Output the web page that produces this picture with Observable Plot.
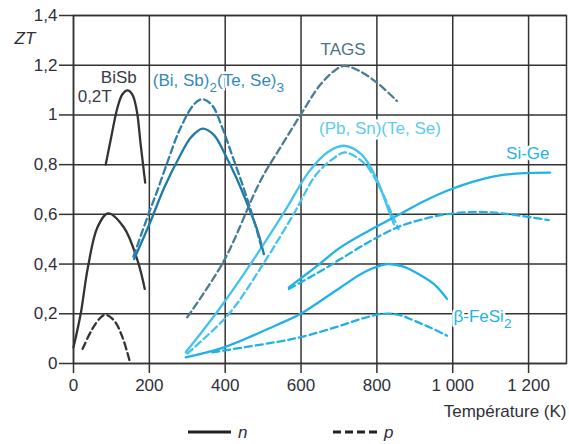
<!DOCTYPE html>
<html><head><meta charset="utf-8">
<script src="https://cdn.jsdelivr.net/npm/d3@7"></script>
<script src="https://cdn.jsdelivr.net/npm/@observablehq/plot@0.6"></script>
<style>
body{margin:0;background:#fff;font-family:"Liberation Sans",Arial,sans-serif;}
#chart{position:relative;width:569px;height:444px;}
#legend{position:absolute;left:0;top:418px;}
</style></head><body><div id="chart"></div>
<script>
// ---- tick values / labels ----
const xTicks = [0, 200, 400, 600, 800, 1000, 1200];
const xTickLabels = ["0", "200", "400", "600", "800", "1 000", "1 200"];
const yTicks = [0, 0.2, 0.4, 0.6, 0.8, 1, 1.2, 1.4];
const yTickLabels = ["0", "0,2", "0,4", "0,6", "0,8", "1", "1,2", "1,4"];

// ---- series: [Température (K), ZT] ----
const bisb02T = [[85,0.80],[100,0.915],[116,1.03],[129,1.083],[142,1.099],[155,1.083],[167,1.016],[177,0.883],[189,0.728]];
const bisbN = [[0,0.065],[19,0.2],[38,0.387],[63,0.547],[91,0.604],[133,0.547],[169,0.414],[188,0.30]];
const bisbP = [[24,0.059],[50,0.14],[72,0.186],[85,0.196],[107,0.173],[129,0.106],[149,0.005]];
const bitesN = [[160,0.42],[200,0.56],[240,0.71],[283,0.842],[310,0.91],[340,0.945],[370,0.92],[400,0.84],[430,0.745],[460,0.635],[485,0.535],[502,0.44]];
const bitesP = [[158,0.43],[200,0.61],[221,0.695],[250,0.82],[280,0.94],[318,1.043],[340,1.063],[365,1.04],[392,0.95],[420,0.83],[450,0.70],[475,0.58],[497,0.46]];
const tagsP = [[300,0.186],[397,0.414],[493,0.735],[550,0.88],[600,1.003],[650,1.12],[690,1.18],[713,1.197],[750,1.18],[800,1.13],[853,1.056]];
const pbsnN = [[296,0.045],[380,0.21],[480,0.43],[560,0.62],[620,0.77],[670,0.85],[713,0.876],[760,0.84],[800,0.74],[830,0.62],[845,0.56]];
const pbsnP = [[300,0.04],[410,0.2],[500,0.40],[580,0.60],[640,0.76],[690,0.83],[717,0.849],[770,0.80],[810,0.70],[840,0.60],[857,0.54]];
const sigeN = [[568,0.306],[640,0.39],[704,0.467],[780,0.535],[853,0.594],[920,0.65],[985,0.695],[1050,0.73],[1117,0.755],[1190,0.766],[1257,0.768]];
const sigeP = [[568,0.30],[650,0.37],[704,0.42],[780,0.49],[853,0.547],[920,0.58],[985,0.601],[1073,0.61],[1150,0.60],[1253,0.577]];
const fesiN = [[296,0.025],[397,0.065],[533,0.153],[599,0.2],[704,0.306],[770,0.37],[827,0.40],[870,0.39],[910,0.36],[950,0.32],[985,0.26]];
const fesiP = [[366,0.045],[450,0.065],[533,0.086],[599,0.106],[700,0.15],[770,0.185],[818,0.20],[860,0.195],[897,0.173],[940,0.145],[985,0.112]];

// ---- curve labels: [text, T, ZT] ----
const labelTexts = ["BiSb", "0,2T", "(Bi, Sb)_2(Te, Se)_3", "TAGS", "(Pb, Sn)(Te, Se)", "Si-Ge", "β-FeSi_2"];
const labelT = [72, 11, 209, 711, 808, 1198, 1002];
const labelZT = [1.149, 1.072, 1.137, 1.265, 0.944, 0.843, 0.189];

// ---- styles ----
const colors = {
  bisb: "#333333", bites: "#1f7aa6", bitesP: "#2f80a8", tags: "#4b7c91",
  pbsn: "#45c3ef", sige: "#20b1e7", fesi: "#20b1e7"
};
const labelColors = ["#3a3a46", "#3a3a46", "#3389bd", "#4f7186", "#5ccbf2", "#22b4ea", "#22b4ea"];
const labelAnchors = ["start", "start", "start", "middle", "middle", "middle", "start"];

const solidSeries = [["bisb02T", bisb02T, colors.bisb], ["bisbN", bisbN, colors.bisb], ["bitesN", bitesN, colors.bites],
  ["pbsnN", pbsnN, colors.pbsn], ["sigeN", sigeN, colors.sige], ["fesiN", fesiN, colors.fesi]];
const dashedSeries = [["bisbP", bisbP, colors.bisb], ["bitesP", bitesP, colors.bitesP], ["tagsP", tagsP, colors.tags],
  ["pbsnP", pbsnP, colors.pbsn], ["sigeP", sigeP, colors.sige], ["fesiP", fesiP, colors.fesi]];

const toRows = list => list.flatMap(([name, pts, color]) => pts.map(([T, ZT]) => ({name, T, ZT, color})));
const solidRows = toRows(solidSeries);
const dashedRows = toRows(dashedSeries);
const labels = labelTexts.map((t, i) => ({text: t, T: labelT[i], ZT: labelZT[i], color: labelColors[i], anchor: labelAnchors[i]}));

const ink = "#333333";
const fs = 17;

const svg = Plot.plot({
  width: 569, height: 418,
  marginLeft: 73, marginRight: 3, marginTop: 15, marginBottom: 55,
  style: {fontFamily: '"Liberation Sans", Arial, sans-serif', fontSize: fs + "px", color: "#2f2f3a", background: "#fff", overflow: "visible"},
  x: {domain: [0, 1300]},
  y: {domain: [0, 1.4]},
  color: {type: "identity"},
  marks: [
    Plot.gridX(xTicks, {stroke: ink, strokeOpacity: 1, strokeWidth: 1.5}),
    Plot.gridY(yTicks, {stroke: ink, strokeOpacity: 1, strokeWidth: 1.5}),
    Plot.frame({stroke: ink, strokeWidth: 1.5}),
    Plot.axisX(xTicks, {tickSize: 10, tickPadding: 5, stroke: ink, strokeWidth: 1.5, tickFormat: (d, i) => xTickLabels[i], label: null, fontSize: fs}),
    Plot.axisY(yTicks, {tickSize: 14, tickPadding: 2, stroke: ink, strokeWidth: 1.5, tickFormat: (d, i) => yTickLabels[i], label: null, fontSize: fs}),
    Plot.line(solidRows, {x: "T", y: "ZT", z: "name", stroke: "color", strokeWidth: 2.3, curve: "catmull-rom"}),
    Plot.line(dashedRows, {x: "T", y: "ZT", z: "name", stroke: "color", strokeWidth: 2.3, strokeDasharray: "7,4", curve: "catmull-rom"}),
    Plot.text(labels.filter(d => d.anchor === "start"), {x: "T", y: "ZT", text: "text", fill: "color", textAnchor: "start", stroke: "white", strokeWidth: 5, fontSize: fs}),
    Plot.text(labels.filter(d => d.anchor === "middle"), {x: "T", y: "ZT", text: "text", fill: "color", textAnchor: "middle", stroke: "white", strokeWidth: 5, fontSize: fs}),
    Plot.text(["ZT"], {x: -128, y: 1.307, text: d => d, fill: "#2f2f3a", fontStyle: "italic", fontSize: fs}),
    Plot.text(["Température (K)"], {x: 1300, y: -0.193, text: d => d, fill: "#2f2f3a", textAnchor: "end", fontSize: fs})
  ]
});

// subscripts
d3.select(svg).selectAll("text").each(function () {
  const el = this;
  const t = el.textContent;
  if (!t.includes("_")) return;
  while (el.firstChild) el.removeChild(el.firstChild);
  const parts = t.split(/(_\d)/).filter(p => p.length);
  let shifted = false;
  const shift = 6;
  for (const p of parts) {
    const ts = document.createElementNS("http://www.w3.org/2000/svg", "tspan");
    if (p.startsWith("_")) {
      ts.textContent = p.slice(1);
      ts.setAttribute("font-size", "0.8em");
      ts.setAttribute("dy", shift);
      shifted = true;
    } else {
      ts.textContent = p;
      if (shifted) { ts.setAttribute("dy", -shift); shifted = false; }
    }
    el.appendChild(ts);
  }
});

const chart = document.getElementById("chart");
chart.appendChild(svg);

// legend (n solid, p dashed)
const legend = document.createElement("div");
legend.id = "legend";
legend.innerHTML = `<svg width="569" height="26" style="font-family:'Liberation Sans',Arial,sans-serif">
  <line x1="188" x2="231" y1="14" y2="14" stroke="#222" stroke-width="3"/>
  <text x="238" y="19.5" font-size="17" font-style="italic" fill="#2f2f3a">n</text>
  <line x1="333" x2="377" y1="14" y2="14" stroke="#222" stroke-width="3" stroke-dasharray="8,4"/>
  <text x="384" y="19.5" font-size="17" font-style="italic" fill="#2f2f3a">p</text>
</svg>`;
chart.appendChild(legend);
</script></body></html>
